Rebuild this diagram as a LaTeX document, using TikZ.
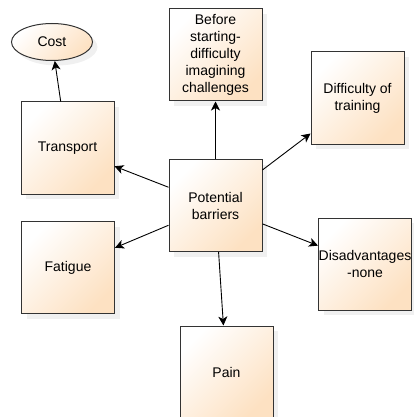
\documentclass[tikz,border=0pt]{standalone}
\usepackage{fontspec}
\setmainfont{Liberation Sans}
\usetikzlibrary{shapes.geometric, shadows, arrows.meta}
\definecolor{peach}{RGB}{253,225,194}
\tikzset{
->, % every connector is directed
>={Stealth[length=9pt, width=9pt, inset=2.5pt]}, % bold arrow heads
x=1pt, y=-1pt, % one unit is one pixel of the sketch, y runs down
every node/.style={font=\fontsize{14}{17}\selectfont, align=center},
box/.style={draw=black!80, line width=1pt, top color=white, bottom color=peach, shading angle=45,
  minimum width=93pt, minimum height=92pt, inner sep=0pt,
  drop shadow={opacity=0.12, shadow xshift=5pt, shadow yshift=-5pt}}, % the barrier boxes
oval/.style={box, ellipse, minimum width=81pt, minimum height=37pt}, % the round node at the top
}

\begin{document}
\begin{tikzpicture}
        \useasboundingbox (0,0) rectangle (414,417);

        \node[oval] (cost) at (52,42) {Cost};
        \node[box] (transport) at (67.5,148) {Transport};
        \node[box] (before) at (215.5,55) {Before\\starting-\\difficulty\\imagining\\challenges};
        \node[box] (training) at (357.5,98) {Difficulty of\\training};
        \node[box] (barriers) at (215.5,205.5) {Potential\\barriers};
        \node[box] (fatigue) at (68,267.5) {Fatigue};
        \node[box] (disadv) at (365,264) {Disadvantages\\-none};
        \node[box] (pain) at (226.5,372) {Pain};

        \draw[line width=0.9pt] (transport) -- (cost);
        \draw[line width=0.9pt] (barriers) -- (transport);
        \draw[line width=0.9pt] (barriers) -- (before);
        \draw[line width=0.9pt] (barriers) -- (training);
        \draw[line width=0.9pt] (barriers) -- (fatigue);
        \draw[line width=0.9pt] (barriers) -- (disadv);
        \draw[line width=0.9pt] (barriers) -- (pain);
    \end{tikzpicture}
\end{document}
